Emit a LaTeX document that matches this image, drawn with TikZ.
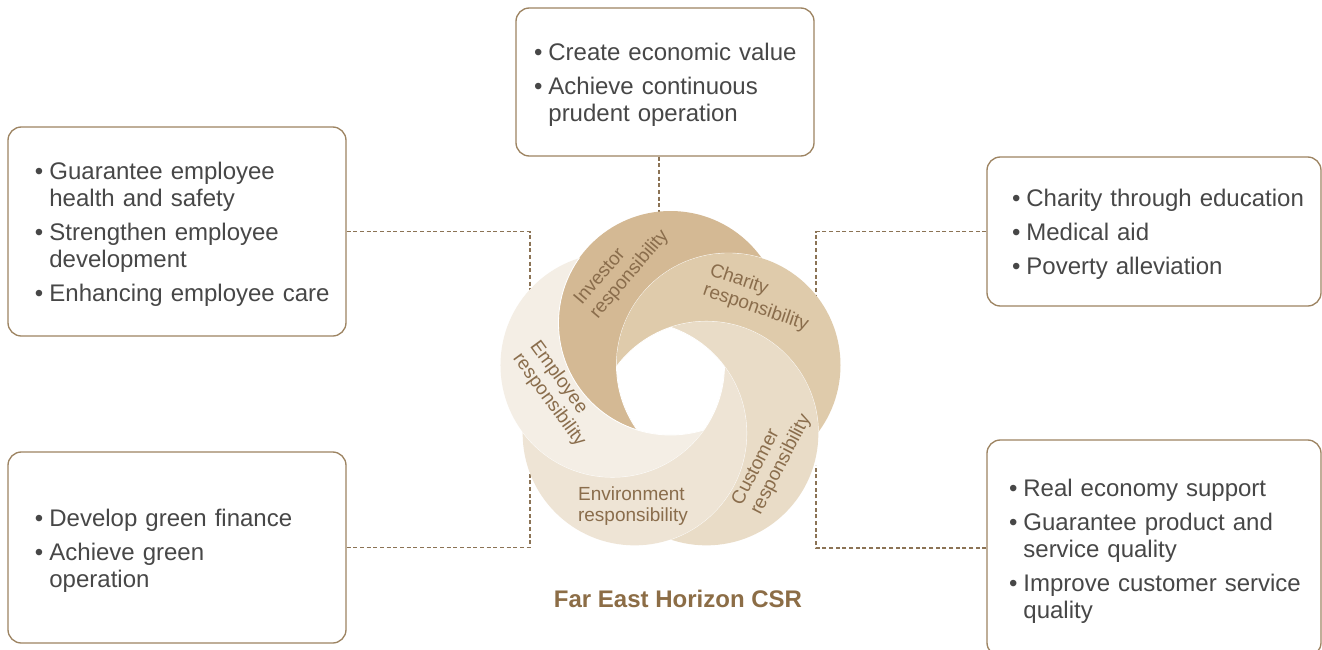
\documentclass[tikz,border=0pt]{standalone}
\usepackage{fontspec}
\setmainfont{Liberation Sans}
\usetikzlibrary{calc}
\definecolor{inv}{HTML}{D4B994}
\definecolor{cha}{HTML}{DFCBAB}
\definecolor{cus}{HTML}{E9DCC7}
\definecolor{env}{HTML}{EEE4D5}
\definecolor{emp}{HTML}{F4EEE5}
\definecolor{boxc}{HTML}{9D8462}
\definecolor{dashc}{HTML}{8B7355}
\definecolor{txt}{HTML}{474747}
\definecolor{lblc}{HTML}{8A6D4C}
\definecolor{ttlc}{HTML}{8C6D46}
\newcommand\bxfont{\fontsize{18}{20.25}\selectfont}
\newcommand\lbfont{\fontsize{14.25}{15.75}\selectfont}
\tikzset{
  box/.style={draw=boxc, line width=1pt, rounded corners=10pt, fill=white,
    align=left, font=\bxfont, text=txt, inner ysep=0pt},
  conn/.style={draw=dashc, line width=0.8pt, dash pattern=on 3pt off 2pt},
  lbl/.style={text=lblc, font=\lbfont, align=left, inner sep=0pt},
}
\newcommand\blist[1]{\raisebox{-3pt}[\height][\depth]{\begin{tabular}{@{}l@{\hspace{4.5pt}}l@{}}#1\end{tabular}}}
\begin{document}
\begin{tikzpicture}[x=0.75pt,y=-0.75pt]
\fill[white] (0,0) rectangle (1322,650);
\useasboundingbox (0,0) rectangle (1322,650);

% boxes
\node[box, minimum width=223.5pt, minimum height=111pt, text width=196.5pt, inner xsep=13.5pt] (top) at (665,82)
 {\blist{•&Create economic value\\[5.25pt]•&Achieve continuous\\&prudent operation}};
\node[box, minimum width=253.5pt, minimum height=156.75pt, text width=213pt, inner xsep=20.25pt] (lt) at (177,231.5)
 {\blist{•&Guarantee employee\\&health and safety\\[5.25pt]•&Strengthen employee\\&development\\[5.25pt]•&Enhancing employee care}};
\node[box, minimum width=253.5pt, minimum height=143.25pt, text width=213pt, inner xsep=20.25pt] (lb) at (177,547.5)
 {\blist{•&Develop green finance\\[5.25pt]•&Achieve green\\&operation}};
\node[box, minimum width=250.5pt, minimum height=111.75pt, text width=213pt, inner xsep=18.75pt] (rt) at (1154,231.5)
 {\blist{•&Charity through education\\[5.25pt]•&Medical aid\\[5.25pt]•&Poverty alleviation}};
\node[box, minimum width=250.5pt, minimum height=162pt, text width=217.5pt, inner xsep=16.5pt] (rb) at (1154,548)
 {\blist{•&Real economy support\\[5.25pt]•&Guarantee product and\\&service quality\\[5.25pt]•&Improve customer service\\&quality}};

% connectors
\coordinate (ct) at (659,215);
\draw[conn] (ct |- top.south) -- (ct);
\coordinate (clt) at (530,292);
\draw[conn] (lt.east) -- (lt.east -| clt) -- (clt);
\coordinate (clb) at (530,470);
\draw[conn] (lb.east) -- (lb.east -| clb) -- (clb);
\coordinate (crt) at (816,300);
\draw[conn] (rt.west) -- (rt.west -| crt) -- (crt);
\coordinate (crb) at (816,465);
\draw[conn] (rb.west) -- (rb.west -| crb) -- (crb);

% swirl
\coordinate (I) at (670.5,323);
\coordinate (C) at (728.5,365.15);
\coordinate (U) at (706.35,433.35);
\coordinate (V) at (634.65,433.35);
\coordinate (E) at (612.48,365.15);
\foreach \a/\b/\c in {I/C/inv, C/U/cha, U/V/cus, V/E/env, E/I/emp} {
  \begin{scope}
    \clip (\a) circle (84pt);
    \fill[\c, even odd rule] (\a) circle (87pt) (\b) circle (84pt);
    \draw[white, line width=0.6pt] (\b) circle (84pt);
  \end{scope}
}

% labels
\node[lbl, rotate=49.6] (linv) at (622,268) {Investor\\responsibility};
\node[lbl, rotate=-18.7] (lcha) at (759,298) {Charity\\responsibility};
\node[lbl, rotate=62.7] (lcus) at (772,460) {Customer\\responsibility};
\node[lbl] (lenv) at (633,506) {Environment\\responsibility};
\node[lbl, rotate=-53.8] (lemp) at (557.5,394) {Employee\\responsibility};

\node[font=\bfseries\bxfont, text=ttlc, anchor=base, inner sep=0pt] (ttl) at (678,607) {Far East Horizon CSR};
\end{tikzpicture}
\end{document}
